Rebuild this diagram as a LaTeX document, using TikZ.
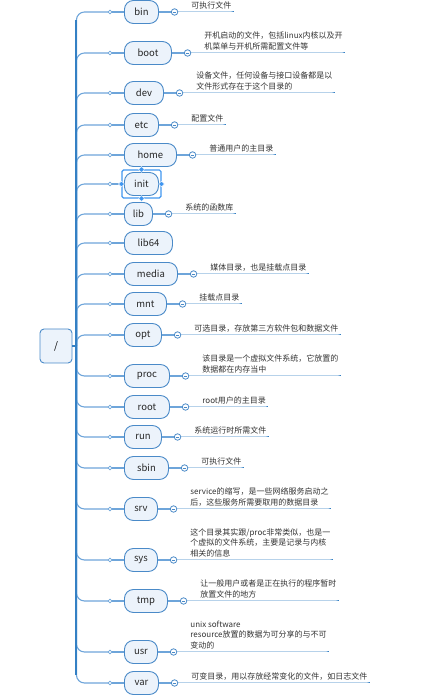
\documentclass[tikz,border=0pt]{standalone}
\usepackage{fontspec}
\usepackage{xcolor}
\usepackage{tikz}
\usetikzlibrary{positioning,fit,shapes.geometric}
\newfontfamily\cjk{Noto Sans CJK SC}
\definecolor{dirblue}{RGB}{74,138,200}
\definecolor{dirfill}{RGB}{236,243,251}
\definecolor{trunkblue}{RGB}{52,128,196}
\definecolor{branchblue}{RGB}{110,165,218}
\definecolor{selblue}{RGB}{64,150,240}
\definecolor{notegray}{RGB}{51,51,51}

\begin{document}
\begin{tikzpicture}[
    x=1pt, y=1pt,
    dir/.style={draw=dirblue, fill=dirfill, line width=0.9pt, rounded corners=9pt,
                minimum height=23pt, inner sep=0pt, anchor=west, text=black!85,
                font=\cjk\fontsize{9.5}{11}\selectfont},
    fsbox/.style={draw=dirblue, fill=dirfill, line width=0.9pt, rounded corners=4pt,
                  minimum width=32pt, minimum height=34pt, inner sep=0pt,
                  font=\cjk\fontsize{10}{12}\selectfont},
    joint/.style={circle, draw=branchblue, fill=white, line width=0.7pt,
                  minimum size=3.6pt, inner sep=0pt},
    fold/.style={circle, draw=dirblue, fill=white, line width=0.8pt,
                 minimum size=6.5pt, inner sep=0pt,
                 path picture={\draw[dirblue, line width=0.7pt]
                   ([xshift=1.5pt]path picture bounding box.west) --
                   ([xshift=-1.5pt]path picture bounding box.east);}},
    note/.style={anchor=south west, align=left, inner sep=0pt, text=notegray,
                 font=\cjk\fontsize{8}{10.8}\selectfont},
    handle/.style={diamond, fill=selblue, draw=white, line width=0.4pt,
                   inner sep=0pt, minimum size=6pt},
    branch/.style={draw=branchblue, line width=1.1pt},
    trunkline/.style={draw=trunkblue, line width=1.8pt},
    underline/.style={draw=trunkblue, line width=1pt}
]
    \useasboundingbox (0,0) rectangle (424,697);

    % Root of the tree
    \node[fsbox] (fs) at (56,351) {/};
    \coordinate (trunk) at ([xshift=4pt]fs.east);
    \coordinate (ttop) at (76,677);
    \coordinate (tbot) at (76,22);

    % Directories
    \node[dir, minimum width=34pt] (bin) at (124,685) {bin};
    \node[dir, minimum width=47pt] (boot) at (124,644) {boot};
    \node[dir, minimum width=39pt] (dev) at (124,604) {dev};
    \node[dir, minimum width=34pt] (etc) at (124,572) {etc};
    \node[dir, minimum width=52pt] (home) at (124,542) {home};
    \node[dir, minimum width=34pt] (init) at (124,513) {init};
    \node[dir, minimum width=28pt] (lib) at (124,483) {lib};
    \node[dir, minimum width=48pt] (lib64) at (124,454) {lib64};
    \node[dir, minimum width=53pt] (media) at (124,423) {media};
    \node[dir, minimum width=42pt] (mnt) at (124,393) {mnt};
    \node[dir, minimum width=37pt] (opt) at (124,362) {opt};
    \node[dir, minimum width=45pt] (proc) at (124,321) {proc};
    \node[dir, minimum width=45pt] (root) at (124,290) {root};
    \node[dir, minimum width=37pt] (run) at (124,260) {run};
    \node[dir, minimum width=44pt] (sbin) at (124,229) {sbin};
    \node[dir, minimum width=33pt] (srv) at (124,188) {srv};
    \node[dir, minimum width=33pt] (sys) at (124,137) {sys};
    \node[dir, minimum width=43pt] (tmp) at (124,96) {tmp};
    \node[dir, minimum width=33pt] (usr) at (124,45) {usr};
    \node[dir, minimum width=34pt] (var) at (124,14) {var};

    % Branches from the trunk
    \foreach \d in {bin,boot,dev,etc,home,init,lib,lib64,media,mnt,opt,
                    proc,root,run,sbin,srv,sys,tmp,usr,var} {
        \path (\d.west) ++(-14pt,0) node[joint] (\d-j) {};
        \draw[branch, rounded corners=8pt] (trunk) |- (\d-j.west);
        \draw[branch] (\d-j.east) -- (\d.west);
    }
    \draw[trunkline] (fs.east) -- (trunk);
    \draw[trunkline] (ttop) -- (tbot);

    % Notes
    \foreach \d in {bin,boot,dev,etc,home,lib,media,mnt,opt,
                    proc,root,run,sbin,srv,sys,tmp,usr,var}
        \node[fold, right=12pt of \d] (\d-f) {};

    \node[note] (bin-n) at ([xshift=13pt,yshift=2.5pt]bin-f.east) {可执行文件};
    \node[note] (boot-n) at ([xshift=13pt,yshift=2.5pt]boot-f.east)
        {开机启动的文件，包括linux内核以及开\\机菜单与开机所需配置文件等};
    \node[note] (dev-n) at ([xshift=13pt,yshift=2.5pt]dev-f.east)
        {设备文件，任何设备与接口设备都是以\\文件形式存在于这个目录的};
    \node[note] (etc-n) at ([xshift=13pt,yshift=2.5pt]etc-f.east) {配置文件};
    \node[note] (home-n) at ([xshift=13pt,yshift=2.5pt]home-f.east) {普通用户的主目录};
    \node[note] (lib-n) at ([xshift=13pt,yshift=2.5pt]lib-f.east) {系统的函数库};
    \node[note] (media-n) at ([xshift=13pt,yshift=2.5pt]media-f.east) {媒体目录，也是挂载点目录};
    \node[note] (mnt-n) at ([xshift=13pt,yshift=2.5pt]mnt-f.east) {挂载点目录};
    \node[note] (opt-n) at ([xshift=13pt,yshift=2.5pt]opt-f.east)
        {可选目录，存放第三方软件包和数据文件};
    \node[note] (proc-n) at ([xshift=13pt,yshift=2.5pt]proc-f.east)
        {该目录是一个虚拟文件系统，它放置的\\数据都在内存当中};
    \node[note] (root-n) at ([xshift=13pt,yshift=2.5pt]root-f.east) {root用户的主目录};
    \node[note] (run-n) at ([xshift=13pt,yshift=2.5pt]run-f.east) {系统运行时所需文件};
    \node[note] (sbin-n) at ([xshift=13pt,yshift=2.5pt]sbin-f.east) {可执行文件};
    \node[note] (srv-n) at ([xshift=13pt,yshift=2.5pt]srv-f.east)
        {service的缩写，是一些网络服务启动之\\后，这些服务所需要取用的数据目录};
    \node[note] (sys-n) at ([xshift=13pt,yshift=2.5pt]sys-f.east)
        {这个目录其实跟/proc非常类似，也是一\\个虚拟的文件系统，主要是记录与内核\\相关的信息};
    \node[note] (tmp-n) at ([xshift=13pt,yshift=2.5pt]tmp-f.east)
        {让一般用户或者是正在执行的程序暂时\\放置文件的地方};
    \node[note] (usr-n) at ([xshift=13pt,yshift=2.5pt]usr-f.east)
        {unix software\\resource放置的数据为可分享的与不可\\变动的};
    \node[note] (var-n) at ([xshift=13pt,yshift=2.5pt]var-f.east)
        {可变目录，用以存放经常变化的文件，如日志文件};

    \foreach \d in {bin,boot,dev,etc,home,lib,media,mnt,opt,
                    proc,root,run,sbin,srv,sys,tmp,usr,var} {
        \draw[branch] (\d.east) -- (\d-f.west);
        \draw[underline] (\d-f.east) -- (\d-n.south east |- \d-f.east) -- ++(2pt,0);
    }

    % Selection frame on init
    \node[draw=selblue, line width=1.2pt, rounded corners=1.5pt, fit=(init),
          inner sep=2pt] (init-sel) {};
    \foreach \a in {north,south,east,west}
        \node[handle] at (init-sel.\a) {};
\end{tikzpicture}
\end{document}
